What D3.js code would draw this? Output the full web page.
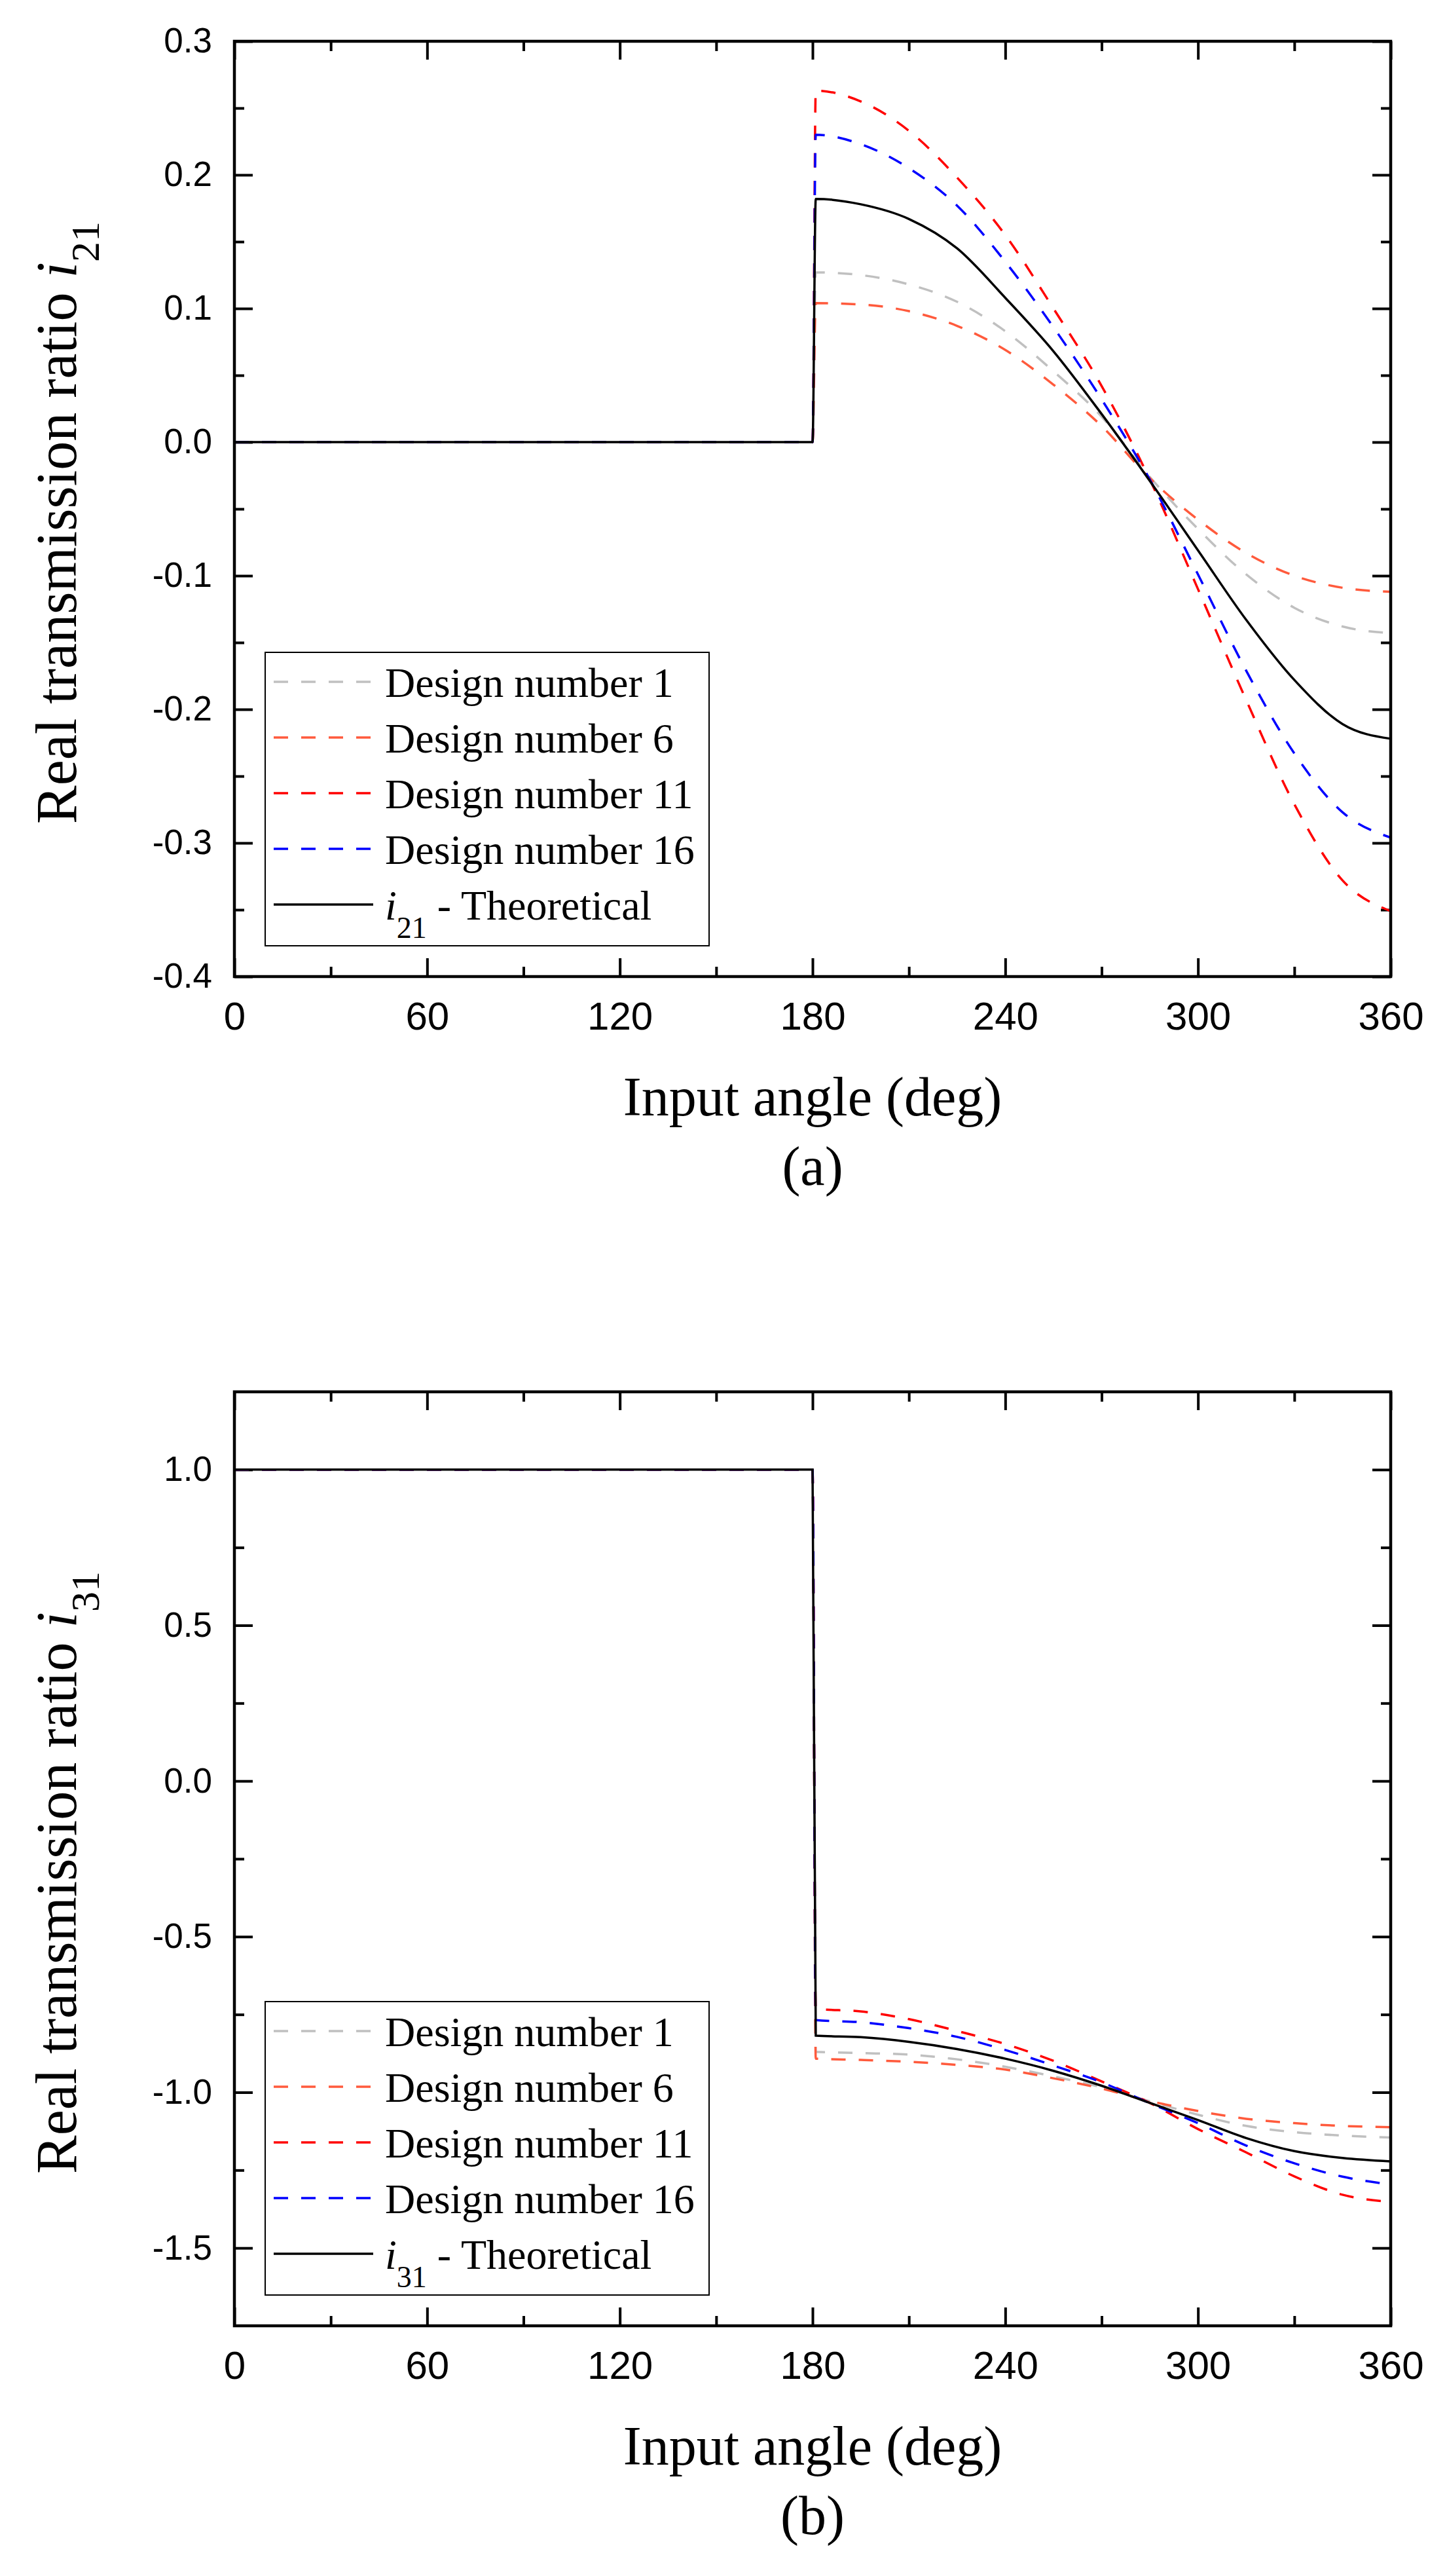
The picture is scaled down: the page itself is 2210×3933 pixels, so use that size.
<!DOCTYPE html>
<html>
<head>
<meta charset="utf-8">
<script src="https://cdn.jsdelivr.net/npm/d3@7"></script>
<style>
  body { margin: 0; background: #fff; }
</style>
</head>
<body>
<div id="chart"></div>
<script>
// angles shared by every series (deg)
const angles = [0, 180, 181, 195, 210, 225, 240, 255, 270, 285, 300, 315, 330, 345, 360];

// (a) real transmission ratio i21
const i21Design1  = [0, 0, 0.127, 0.125, 0.118, 0.105, 0.083, 0.053, 0.019, -0.026, -0.065, -0.099, -0.124, -0.138, -0.143];
const i21Design6  = [0, 0, 0.104, 0.103, 0.098, 0.087, 0.069, 0.043, 0.012, -0.027, -0.058, -0.083, -0.100, -0.109, -0.112];
const i21Design11 = [0, 0, 0.263, 0.255, 0.233, 0.198, 0.155, 0.100, 0.042, -0.028, -0.110, -0.193, -0.271, -0.328, -0.351];
const i21Design16 = [0, 0, 0.230, 0.223, 0.205, 0.177, 0.135, 0.086, 0.032, -0.028, -0.099, -0.171, -0.233, -0.277, -0.296];
const i21Theory   = [0, 0, 0.182, 0.178, 0.167, 0.145, 0.108, 0.068, 0.021, -0.029, -0.081, -0.133, -0.178, -0.211, -0.222];

// (b) real transmission ratio i31
const i31Design1  = [1, 1, -0.870, -0.874, -0.879, -0.894, -0.918, -0.949, -0.984, -1.029, -1.072, -1.108, -1.128, -1.139, -1.145];
const i31Design6  = [1, 1, -0.892, -0.896, -0.902, -0.912, -0.927, -0.955, -0.988, -1.028, -1.060, -1.085, -1.099, -1.108, -1.112];
const i31Design11 = [1, 1, -0.732, -0.740, -0.765, -0.803, -0.845, -0.899, -0.965, -1.034, -1.118, -1.193, -1.270, -1.329, -1.352];
const i31Design16 = [1, 1, -0.768, -0.775, -0.794, -0.822, -0.864, -0.914, -0.968, -1.035, -1.099, -1.171, -1.228, -1.271, -1.296];
const i31Theory   = [1, 1, -0.818, -0.823, -0.838, -0.861, -0.892, -0.931, -0.979, -1.034, -1.089, -1.147, -1.189, -1.211, -1.222];

const designNames = ["Design number 1", "Design number 6", "Design number 11", "Design number 16"];
const designColors = ["#c0c0c0", "#ff5a3c", "#ff0000", "#0000ff"];

// ticks
const xTicks = [0, 60, 120, 180, 240, 300, 360];
const xMinor = [30, 90, 150, 210, 270, 330];
const yTicksA = [-0.4, -0.3, -0.2, -0.1, 0, 0.1, 0.2, 0.3];
const yMinorA = [-0.35, -0.25, -0.15, -0.05, 0.05, 0.15, 0.25];
const yTicksB = [-1.5, -1.0, -0.5, 0, 0.5, 1.0];
const yMinorB = [-1.25, -0.75, -0.25, 0.25, 0.75];

const width = 2210;
const height = 3933;
const left = 358, right = 2124;
const sans = "'Liberation Sans', Arial, sans-serif";
const serif = "'Liberation Serif', 'Times New Roman', serif";

const svg = d3.select("#chart")
  .append("svg")
  .attr("width", width)
  .attr("height", height)
  .style("background", "#fff");

function drawPanel(cfg) {
  const x = d3.scaleLinear().domain([0, 360]).range([left, right]);
  const y = d3.scaleLinear().domain(cfg.domain).range([cfg.bottom, cfg.top]);
  const g = svg.append("g");

  // ticks, all pointing inwards
  const addAxis = (axis, transform, labels) => {
    const a = g.append("g").attr("transform", transform).call(axis);
    a.select(".domain").remove();
    a.selectAll(".tick line").attr("stroke", "#000").attr("stroke-width", 4);
    if (!labels) a.selectAll(".tick text").remove();
    return a;
  };

  const xa = addAxis(d3.axisBottom(x).tickValues(xTicks).tickSize(-28).tickPadding(38).tickFormat(d => d),
    `translate(0,${cfg.bottom})`, true);
  xa.selectAll(".tick text").attr("font-family", sans).attr("font-size", 60).attr("fill", "#000");
  addAxis(d3.axisBottom(x).tickValues(xMinor).tickSize(-15).tickFormat(""), `translate(0,${cfg.bottom})`, false);
  addAxis(d3.axisTop(x).tickValues(xTicks).tickSize(-28).tickFormat(""), `translate(0,${cfg.top})`, false);
  addAxis(d3.axisTop(x).tickValues(xMinor).tickSize(-15).tickFormat(""), `translate(0,${cfg.top})`, false);

  const ya = addAxis(d3.axisLeft(y).tickValues(cfg.ticks).tickSize(-28).tickPadding(34).tickFormat(d => d.toFixed(1)),
    `translate(${left},0)`, true);
  ya.selectAll(".tick text").attr("font-family", sans).attr("font-size", 53).attr("fill", "#000");
  addAxis(d3.axisLeft(y).tickValues(cfg.minor).tickSize(-15).tickFormat(""), `translate(${left},0)`, false);
  addAxis(d3.axisRight(y).tickValues(cfg.ticks).tickSize(-28).tickFormat(""), `translate(${right},0)`, false);
  addAxis(d3.axisRight(y).tickValues(cfg.minor).tickSize(-15).tickFormat(""), `translate(${right},0)`, false);

  // curves
  const line = d3.line()
    .x((d, i) => x(angles[i]))
    .y(d => y(d))
    .curve(d3.curveMonotoneX);

  cfg.designs.forEach((values, k) => {
    g.append("path")
      .datum(values)
      .attr("fill", "none")
      .attr("stroke", designColors[k])
      .attr("stroke-width", 3.5)
      .attr("stroke-dasharray", "22,20")
      .attr("d", line);
  });
  g.append("path")
    .datum(cfg.theory)
    .attr("fill", "none")
    .attr("stroke", "#000")
    .attr("stroke-width", 3.5)
    .attr("d", line);

  // frame
  g.append("rect")
    .attr("x", left).attr("y", cfg.top)
    .attr("width", right - left).attr("height", cfg.bottom - cfg.top)
    .attr("fill", "none").attr("stroke", "#000").attr("stroke-width", 4.5);

  // legend
  const legTop = cfg.bottom - 495;
  const leg = g.append("g");
  leg.append("rect")
    .attr("x", 405).attr("y", legTop)
    .attr("width", 678).attr("height", 448)
    .attr("fill", "#fff").attr("stroke", "#000").attr("stroke-width", 2);
  const rows = designNames.map((name, k) => ({ name, color: designColors[k], dash: "22,20" }));
  rows.push({ name: null, color: "#000", dash: null });
  rows.forEach((r, k) => {
    const ry = legTop + 45 + k * 85;
    leg.append("line")
      .attr("x1", 418).attr("x2", 570).attr("y1", ry).attr("y2", ry)
      .attr("stroke", r.color).attr("stroke-width", 3.5)
      .attr("stroke-dasharray", r.dash);
    const t = leg.append("text")
      .attr("x", 588).attr("y", ry + 23)
      .attr("font-family", serif).attr("font-size", 64).attr("fill", "#000");
    if (r.name) {
      t.text(r.name);
    } else {
      t.append("tspan").attr("font-style", "italic").text("i");
      t.append("tspan").attr("font-size", 46).attr("dy", 28).text(cfg.sub);
      t.append("tspan").attr("dy", -28).text(" - Theoretical");
    }
  });

  // axis titles
  g.append("text")
    .attr("x", (left + right) / 2).attr("y", cfg.bottom + 212)
    .attr("text-anchor", "middle")
    .attr("font-family", serif).attr("font-size", 84)
    .text("Input angle (deg)");
  g.append("text")
    .attr("x", (left + right) / 2).attr("y", cfg.bottom + 318)
    .attr("text-anchor", "middle")
    .attr("font-family", serif).attr("font-size", 84)
    .text(cfg.letter);

  const yt = g.append("text")
    .attr("transform", `translate(116,${(cfg.top + cfg.bottom) / 2 + 21}) rotate(-90)`)
    .attr("text-anchor", "middle")
    .attr("font-family", serif).attr("font-size", 88);
  yt.append("tspan").text("Real transmission ratio ");
  yt.append("tspan").attr("font-style", "italic").text("i");
  yt.append("tspan").attr("font-size", 62).attr("dy", 35).text(cfg.sub);
}

drawPanel({
  top: 63, bottom: 1491, domain: [-0.4, 0.3],
  ticks: yTicksA, minor: yMinorA,
  designs: [i21Design1, i21Design6, i21Design11, i21Design16],
  theory: i21Theory, sub: "21", letter: "(a)"
});

drawPanel({
  top: 2125, bottom: 3551, domain: [-1.75, 1.25],
  ticks: yTicksB, minor: yMinorB,
  designs: [i31Design1, i31Design6, i31Design11, i31Design16],
  theory: i31Theory, sub: "31", letter: "(b)"
});
</script>
</body>
</html>
